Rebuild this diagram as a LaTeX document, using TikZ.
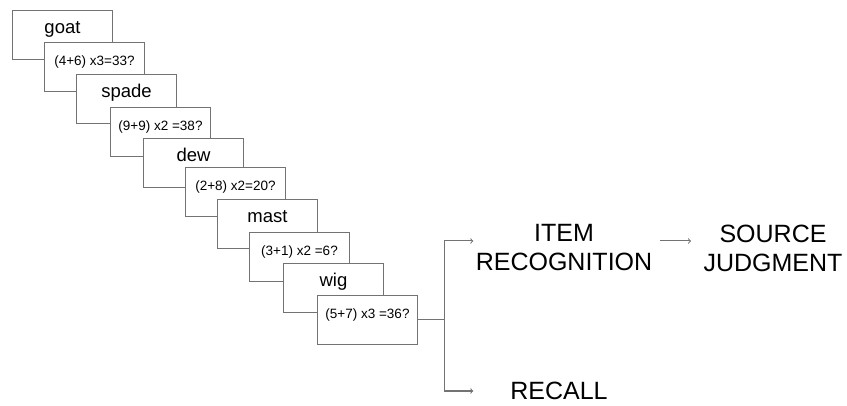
\documentclass[tikz,border=0pt]{standalone}
\usepackage{fontspec}
\setmainfont{Liberation Sans}
\begin{document}
\begin{tikzpicture}[x=1pt, y=-1pt, line width=1pt,
    card/.style={draw=black!55, fill=white, anchor=north west, minimum width=100pt,
        inner xsep=0pt, inner ysep=0pt, text height=23pt, text depth=26pt},
    word/.style={card, font=\fontsize{18.5}{22}\selectfont},
    eqn/.style={card, font=\fontsize{13.5}{16}\selectfont},
    task/.style={font=\fontsize{25}{29}\selectfont, align=center, inner sep=2pt},
    link/.style={draw=black!55, ->}]
\useasboundingbox (0,0) rectangle (847,406);
% study list: word, then a maths check
\node[word](goat) at (12,10) {goat};
\node[eqn](eqa) at (44,42) {(4+6) x3=33?};
\node[word](spade) at (76,74) {spade};
\node[eqn](eqb) at (110,107) {(9+9) x2 =38?};
\node[word](dew) at (143,138) {dew};
\node[eqn](eqc) at (185,167) {(2+8) x2=20?};
\node[word](mast) at (217,199) {mast};
\node[eqn](eqd) at (249,232) {(3+1) x2 =6?};
\node[word](wig) at (283,263) {wig};
\node[eqn](eqe) at (317,295) {(5+7) x3 =36?};
% tests
\node[task](recog) at (564,248) {ITEM\\RECOGNITION};
\node[task](source) at (773,248) {SOURCE\\JUDGMENT};
\node[task](recall) at (559,391) {RECALL};
\coordinate (split) at (eqe.east -| 444,0);
\draw[draw=black!55](eqe.east) -- (split);
\draw[link](split) |- ([yshift=7pt]recog.west);
\draw[link](split) |- (recall.west -| recog.west);
\draw[link, shorten <=5pt, shorten >=10pt]([yshift=7pt]recog.east) -- ([yshift=7pt]source.west);
\end{tikzpicture}
\end{document}
